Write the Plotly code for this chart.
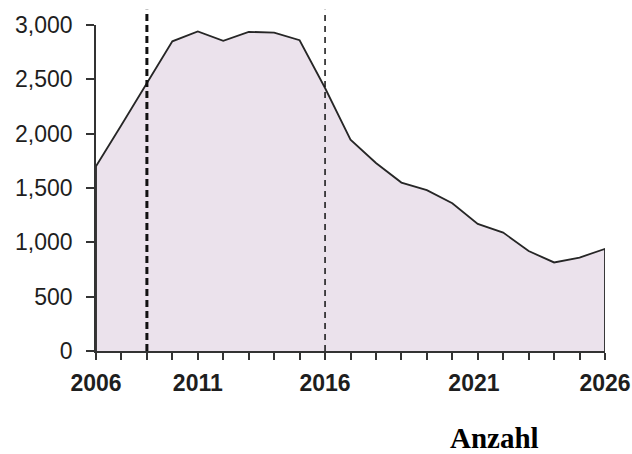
import plotly.graph_objects as go

# ---- data ----
years = list(range(2006, 2027))
values = [1700, 2080, 2470, 2850, 2940, 2855, 2937, 2930, 2860, 2420,
          1945, 1730, 1550, 1480, 1360, 1170, 1090, 920, 815, 860, 940]
marker_years = [2008, 2015]          # dashed vertical markers
marker_widths = [3, 1.5]
tick_labels = ["2006", "2011", "2016", "2021", "2026"]
tick_label_pos = [2006, 2010, 2015, 2020.85, 2026]
y_ticks = [0, 500, 1000, 1500, 2000, 2500, 3000]
unit_label = "Anzahl"

FILL = "#EBE2EC"
LINE = "#262626"
TXT = "#1e1e1e"

fig = go.Figure()

# closed area: baseline -> series -> baseline
fig.add_trace(go.Scatter(
    x=[years[0]] + years + [years[-1]],
    y=[0] + values + [0],
    fill="toself", fillcolor=FILL,
    mode="lines", line=dict(color=LINE, width=1.8),
    hoverinfo="skip", showlegend=False, cliponaxis=False,
))

# invisible trace on the label axis
fig.add_trace(go.Scatter(x=[years[0], years[-1]], y=[0, 0], xaxis="x2",
                         mode="markers", marker=dict(opacity=0),
                         hoverinfo="skip", showlegend=False))

for yr, w in zip(marker_years, marker_widths):
    fig.add_shape(type="line", xref="x", yref="paper",
                  x0=yr, x1=yr, y0=0, y1=1.047,
                  line=dict(color="#111111", width=w,
                            dash="7px,4px" if w > 2 else "6px,5px"),
                  layer="above")

fig.update_layout(
    width=632, height=454,
    margin=dict(l=96, r=27, t=25, b=103, autoexpand=False),
    paper_bgcolor="white", plot_bgcolor="white",
    font=dict(family="Liberation Sans, Arial, sans-serif", color=TXT, size=23),
    xaxis=dict(range=[years[0], years[-1]], tickvals=years, automargin=False,
               showticklabels=False, ticks="outside", ticklen=7,
               tickwidth=1.5, tickcolor="#333", showline=True,
               linecolor="#333", linewidth=1.5, showgrid=False,
               zeroline=False),
    xaxis2=dict(overlaying="x", side="bottom", anchor="y", automargin=False,
                range=[years[0], years[-1]], tickvals=tick_label_pos,
                ticktext=tick_labels, ticks="", showline=False,
                showgrid=False, zeroline=False, ticklabelstandoff=16,
                tickfont=dict(family="Liberation Sans, Arial, sans-serif",
                              size=23, color=TXT, weight="bold")),
    yaxis=dict(range=[0, 3000], tickvals=y_ticks, tickformat=",",
               automargin=False,
               ticks="outside", ticklen=8, tickwidth=1.5, tickcolor="#333",
               showline=True, linecolor="#333", linewidth=1.5,
               showgrid=False, zeroline=False, ticklabelstandoff=9,
               tickfont=dict(size=23, color=TXT)),
    annotations=[dict(text=unit_label, xref="paper", yref="paper",
                      x=0.782, y=-0.268, xanchor="center", yanchor="middle",
                      showarrow=False,
                      font=dict(family="Liberation Serif, Times New Roman, serif",
                                size=29, color="#000", weight="bold"))],
)

fig.write_html("out.html",
               config={"displayModeBar": False},
               post_script="document.body.style.margin='0';"
                           "document.body.style.padding='0';")
